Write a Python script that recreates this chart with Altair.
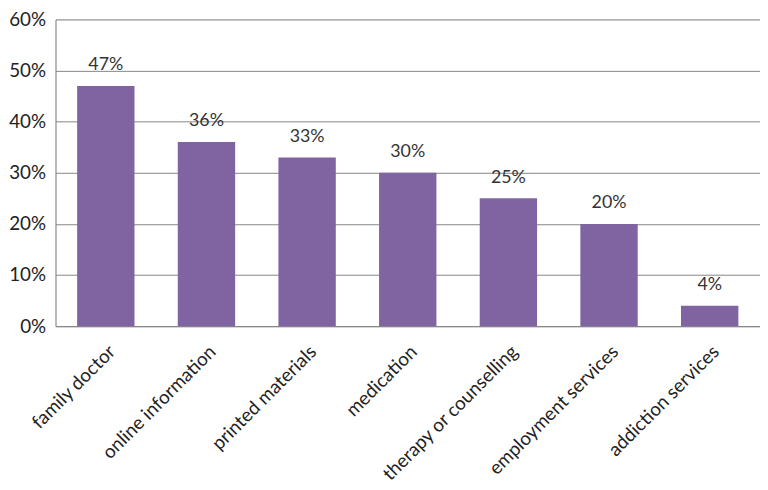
import altair as alt
import pandas as pd

categories = ["family doctor", "online information", "printed materials", "medication",
              "therapy or counselling", "employment services", "addiction services"]
values = [47, 36, 33, 30, 25, 20, 4]

df = pd.DataFrame({"cat": categories, "val": [v / 100 for v in values]})

font = "Lato"

base = alt.Chart(df).encode(
    x=alt.X("cat:N", sort=categories, title=None,
            scale=alt.Scale(paddingInner=0.43, paddingOuter=0.215),
            axis=alt.Axis(labelAngle=-45, labelFontSize=19, labelFont=font, labelColor="#222",
                          domain=True, domainColor="#868686", ticks=False, labelPadding=16,
                          labelLimit=300)),
    y=alt.Y("val:Q", title=None,
            scale=alt.Scale(domain=[0, 0.6]),
            axis=alt.Axis(format=".0%", values=[0, 0.1, 0.2, 0.3, 0.4, 0.5, 0.6],
                          labelFontSize=19, labelFont=font, labelColor="#222",
                          grid=True, gridColor="#868686", domain=True, domainColor="#868686",
                          ticks=False, labelPadding=10)),
)

bars = base.mark_bar(color="#8064A2")
labels = base.mark_text(dy=-21, fontSize=18, font=font, color="#333").encode(
    text=alt.Text("val:Q", format=".0%"))

chart = (bars + labels).properties(width=712, height=310).configure_view(stroke=None).configure(
    padding={"left": 0, "top": 0, "right": 0, "bottom": 0})

chart.save("out.html", embed_options={"renderer": "svg", "actions": False})
